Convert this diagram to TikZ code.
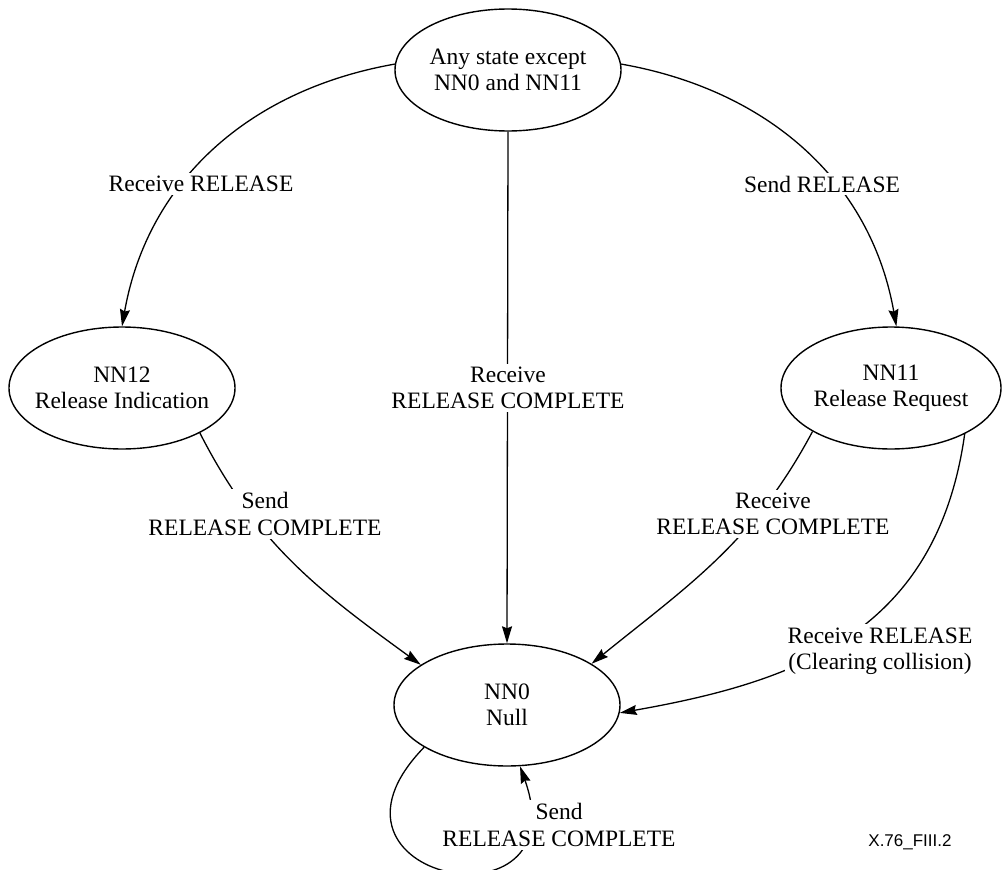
\documentclass[tikz,border=0pt]{standalone}
\usepackage{fontspec}
\setmainfont{Liberation Serif}
\newfontfamily\tagfont{Liberation Sans}
\usetikzlibrary{arrows.meta, shapes.geometric}

\begin{document}
\begin{tikzpicture}[x=1pt, y=1pt,
            state/.style={draw, ellipse, line width=1.4pt, minimum width=226pt, minimum height=122pt,
                          inner xsep=-12pt, inner ysep=0pt, align=center},
            event/.style={fill=white, align=center, inner sep=3pt},
            trans/.style={line width=1.3pt},
            >={Stealth[length=17pt, width=10pt, inset=2pt]},
            font=\fontsize{23.5}{26.5}\selectfont]

        \useasboundingbox (0,0) rectangle (1002,-870);

        \node[state] (any) at (508,-70) {Any state except\\NN0 and NN11};
        \node[state] (nn12) at (122,-388) {NN12\\Release Indication};
        \node[state, minimum width=220pt] (nn11) at (891,-388) {NN11\\Release Request};
        \node[state] (nn0) at (507,-705) {NN0\\Null};

        \draw[trans,->] (any.177) to[out=190, in=80] (nn12.90);
        \draw[trans,->] (any.3) to[out=-10, in=100] (nn11.85);
        \draw[trans,->] (any.south) -- (nn0.north);
        \draw[trans,->] (nn12.-30) to[out=-63, in=144] (nn0.155);
        \draw[trans,->] (nn11.209) to[out=242, in=39] (nn0.26);
        \draw[trans,->] (nn11.-32) to[out=262, in=10, out distance=200pt, in distance=180pt] (nn0.-4);
        \draw[trans,->] (nn0.207) .. controls (295,-880) and (580,-935) .. (nn0.-78);

        \node[event] (recrel) at (201,-184) {Receive RELEASE};
        \node[event] (sendrel) at (822,-184) {Send RELEASE};
        \node[event] (recrc) at (508,-388) {Receive\\RELEASE COMPLETE};
        \node[event] (sendrc) at (265,-514) {Send\\RELEASE COMPLETE};
        \node[event] (recrcb) at (773,-514) {Receive\\RELEASE COMPLETE};
        \node[event] (collide) at (880,-651) {Receive RELEASE\\(Clearing collision)};
        \node[event] (loopsend) at (559,-825) {Send\\RELEASE COMPLETE};
        \node[font=\tagfont\fontsize{17}{20}\selectfont] (tag) at (910,-842) {X.76\_FIII.2};
    \end{tikzpicture}
\end{document}
